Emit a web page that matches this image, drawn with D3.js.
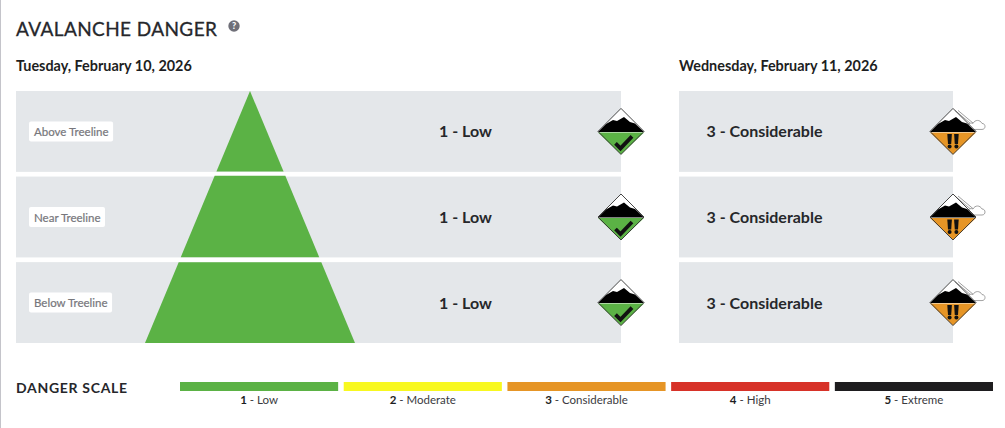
<!DOCTYPE html>
<html><head><meta charset="utf-8">
<script src="https://cdn.jsdelivr.net/npm/d3@7/dist/d3.min.js"></script>
<style>html,body{margin:0;padding:0;background:#fff}svg{display:block;font-family:Lato,"Open Sans",sans-serif}</style>
</head><body><svg id="c" width="1005" height="428"></svg>
<script>
const title = "AVALANCHE DANGER";
const dayLabels = ["Tuesday, February 10, 2026", "Wednesday, February 11, 2026"];
const elevations = ["Above Treeline", "Near Treeline", "Below Treeline"];
const day1Ratings = [1, 1, 1];
const day2Ratings = [3, 3, 3];
const scaleLevels = [1, 2, 3, 4, 5];
const scaleNames = ["Low", "Moderate", "Considerable", "High", "Extreme"];
const scaleColors = ["#5bb245", "#f8f820", "#e69526", "#d73228", "#1e1d1f"];

const svg = d3.select("#c");
const color = d3.scaleOrdinal(scaleLevels, scaleColors);
const nameOf = d3.scaleOrdinal(scaleLevels, scaleNames);
const y = d3.scaleBand(elevations, [91, 343]).paddingInner(0.055);
const halfW = d3.scaleLinear([91, 343], [0, 105]);
const xScale = d3.scaleBand(scaleLevels, [180, 993]).paddingInner(0.034);

svg.append("rect").attr("x",0).attr("y",0).attr("width",1).attr("height",428).attr("fill","#c4c4ca");

svg.append("text").attr("x",16).attr("y",36).attr("font-size",19).attr("font-weight",400)
  .attr("letter-spacing",0.4).attr("fill","#26272b").attr("stroke","#26272b").attr("stroke-width",0.3).text(title);
const help = svg.append("g").attr("transform","translate(234,26)");
help.append("circle").attr("r",5.7).attr("fill","#6f6f78");
help.append("text").attr("y",3.2).attr("text-anchor","middle").attr("font-size",9).attr("font-weight",900).attr("fill","#fff").text("?");

const days = [
  {label: dayLabels[0], ratings: day1Ratings, x0: 16, x1: 621, tx: 465.5},
  {label: dayLabels[1], ratings: day2Ratings, x0: 679, x1: 953, tx: 764.5}
];

function icon(g, r) {
  const R = 23;
  g.append("path").attr("d",`M0,${-R}L${R},0L0,${R}L${-R},0Z`).attr("fill","#fff");
  g.append("path").attr("d",`M${-R},1L${R},1L0,${R}Z`).attr("fill",color(r));
  if (r === 3) {
    g.append("path").attr("d","M2,-21L21,-5M5,-21L24,-5").attr("stroke","#777").attr("stroke-width",.7).attr("fill","none");
    g.append("path").attr("d","M15,-4C14,-8 18,-9 20,-8C22,-12 27,-12 29,-8C33,-8 33,-2 29,-2L17,-2C15,-2 14,-3 15,-4Z")
      .attr("fill","#fff").attr("stroke","#8a8a8a").attr("stroke-width",.8);
  }
  g.append("path").attr("d",`M${-R},0.5L-15,-7.5L-8,-11.5L-4,-10.5L3,-14.5L9,-9.5L14,-8L${R},0.5Z`).attr("fill","#000");
  g.append("path").attr("d",`M0,${-R}L${R},0L0,${R}L${-R},0Z`).attr("fill","none").attr("stroke","#333").attr("stroke-width",0.9);
  if (r === 1) {
    g.append("path").attr("d","M-5.5,12L-0.5,17L11,5").attr("fill","none").attr("stroke","#111").attr("stroke-width",3.8);
  } else {
    [-3.4, 3.4].forEach(dx => {
      g.append("path").attr("d",`M${dx-2.3},2.5L${dx+2.3},2.5L${dx+1.6},12.5L${dx-1.6},12.5Z`).attr("fill","#111");
      g.append("circle").attr("cx",dx).attr("cy",15).attr("r",2).attr("fill","#111");
    });
  }
}

days.forEach((d, di) => {
  svg.append("text").attr("x",d.x0).attr("y",70.6).attr("font-size",14.4).attr("font-weight",700)
    .attr("fill","#1d1e22").text(d.label);
  svg.selectAll(null).data(elevations).join("rect")
    .attr("x",d.x0).attr("y",e=>y(e)).attr("width",d.x1-d.x0).attr("height",y.bandwidth()).attr("fill","#e4e7ea");
});

// pyramid
elevations.forEach((e,i)=>{
  const t = y(e) - (i===1?0.8:0), b = y(e)+y.bandwidth() - (i===2?0:0.3);
  svg.append("path").attr("fill",color(day1Ratings[i]))
    .attr("d",d3.line()([[250-halfW(t),t],[250+halfW(t),t],[250+halfW(b),b],[250-halfW(b),b]])+"Z");
  const cy = y(e)+y.bandwidth()/2;
  const lab = svg.append("g");
  const t2 = lab.append("text").attr("x",34).attr("y",cy+4.5).attr("font-size",11.5).attr("font-weight",400)
    .attr("stroke","#77777c").attr("stroke-width",0.2).attr("fill","#77777c").text(e);
  const w = t2.node().getComputedTextLength();
  lab.insert("rect","text").attr("x",29).attr("y",cy-10).attr("width",w+9.5).attr("height",20).attr("rx",2).attr("fill","#fff");
});

days.forEach(d=>{
  elevations.forEach((e,i)=>{
    const cy = y(e)+y.bandwidth()/2;
    const r = d.ratings[i];
    svg.append("text").attr("x",d.tx).attr("y",cy+6).attr("text-anchor","middle")
      .attr("font-size",16).attr("font-weight",700).attr("fill","#26272b").text(`${r} - ${nameOf(r)}`);
    icon(svg.append("g").attr("transform",`translate(${d.x1},${cy})`), r);
  });
});

// legend
svg.append("text").attr("x",16).attr("y",393).attr("font-size",14).attr("font-weight",700)
  .attr("letter-spacing",0.7).attr("fill","#26272b").text("DANGER SCALE");
scaleLevels.forEach(l=>{
  svg.append("rect").attr("x",xScale(l)).attr("y",382).attr("width",xScale.bandwidth()).attr("height",9).attr("fill",color(l));
  const t = svg.append("text").attr("x",xScale(l)+xScale.bandwidth()/2).attr("y",404).attr("text-anchor","middle")
    .attr("font-size",11.5).attr("fill","#3a3a3e");
  t.append("tspan").attr("font-weight",700).attr("fill","#1d1e22").text(l);
  t.append("tspan").text(` - ${nameOf(l)}`);
});
</script></body></html>
